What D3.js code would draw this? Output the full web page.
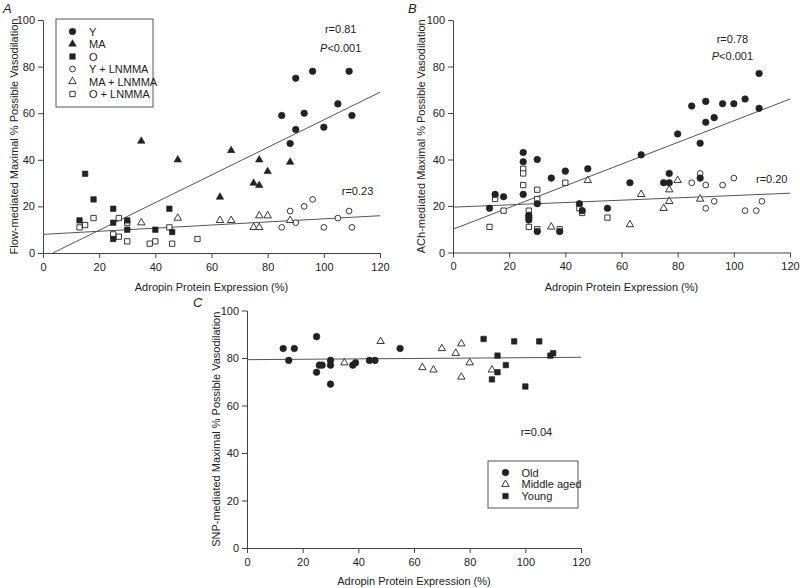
<!DOCTYPE html>
<html>
<head>
<meta charset="utf-8">
<title>Adropin vs vasodilation</title>
<script src="https://cdn.jsdelivr.net/npm/d3@7"></script>
<style>
body { margin: 0; background: #fff; }
svg { font-family: "Liberation Sans", Arial, sans-serif; }
</style>
</head>
<body>
<div id="chart"></div>
<script>
// ---- data ----
// panel A: flow-mediated
var aY    = [[85,59],[88,47],[90,53],[90,75],[93,60],[96,78],[100,54],[105,64],[109,78],[110,59]];
var aMA   = [[35,48],[48,40],[63,24],[67,44],[75,30],[77,29],[77,40],[80,35],[88,39]];
var aO    = [[13,14],[15,34],[18,23],[25,19],[25,13],[25,6],[30,14],[30,10],[40,10],[45,19],[46,9]];
var aYL   = [[85,11],[88,18],[90,13],[93,20],[96,23],[100,11],[105,15],[109,18],[110,11]];
var aMAL  = [[35,13],[48,15],[63,14],[67,14],[75,11],[77,11],[77,16],[80,16],[88,14]];
var aOL   = [[13,11],[15,12],[18,15],[25,8],[27,15],[27,7],[30,13],[30,5],[38,4],[40,5],[45,11],[46,4],[55,6]];
var aFit1 = [[3.5,0],[120,69]];
var aFit2 = [[0,8],[120,16]];

// panel B: ACh-mediated
var bY    = [[85,63],[88,47],[90,65],[90,56],[93,58],[96,64],[100,64],[104,66],[109,77],[109,62]];
var bMA   = [[35,32],[48,36],[63,30],[67,42],[75,30],[77,30],[77,34],[80,51],[88,32]];
var bO    = [[13,19],[15,25],[18,24],[25,43],[25,39],[25,25],[27,16],[27,15],[27,14],[30,40],[30,21],[30,9],[38,9],[40,35],[45,21],[46,18],[55,19]];
var bYL   = [[85,30],[88,34],[90,29],[90,19],[93,22],[96,29],[100,32],[104,18],[108,18],[110,22]];
var bMAL  = [[35,11],[48,31],[63,12],[67,25],[75,19],[77,22],[77,27],[80,31],[88,23]];
var bOL   = [[13,11],[15,23],[18,18],[25,36],[25,34],[25,29],[27,18],[27,11],[30,27],[30,23],[30,10],[38,10],[40,30],[45,19],[46,17],[55,15]];
var bFit1 = [[0,10],[120,66]];
var bFit2 = [[0,19.5],[120,25.5]];

// panel C: SNP-mediated
var cOld   = [[13,84],[17,84],[15,79],[25,89],[25,74],[26,77],[27,77],[30,79],[30,77],[30,69],[38,77],[39,78],[44,79],[46,79],[55,84]];
var cMid   = [[35,78],[48,87],[63,76],[67,75],[70,84],[75,82],[77,86],[77,72],[80,78],[88,75]];
var cYoung = [[85,88],[88,71],[90,81],[90,74],[93,77],[96,87],[100,68],[105,87],[109,81],[110,82]];
var cFit   = [[0,79.3],[120,80.3]];

var xTicks = [0,20,40,60,80,100,120];
var yTicks = [0,20,40,60,80,100];

var legendA = ["Y","MA","O","Y + LNMMA","MA + LNMMA","O + LNMMA"];
var legendC = ["Old","Middle aged","Young"];

var w = 800, h = 588;
var svg = d3.select("#chart").append("svg").attr("width", w).attr("height", h);

var ink = "#222";
var fs = "11px";

// shape + fill for each kind of marker
function marker(g, kind, filled) {
  var type = kind == "circle" ? d3.symbolCircle : kind == "square" ? d3.symbolSquare : d3.symbolTriangle;
  var size = kind == "circle" ? (filled ? 34 : 26) : kind == "square" ? (filled ? 30 : 28) : 24;
  g.attr("d", d3.symbol().type(type).size(size)())
   .attr("fill", filled ? ink : "#fff")
   .attr("stroke", ink)
   .attr("stroke-width", filled ? 0.6 : 0.9);
}

function panel(p) {
  var x = d3.scaleLinear().domain([0,120]).range(p.xr);
  var y = d3.scaleLinear().domain([0,100]).range(p.yr);
  var g = svg.append("g");

  g.append("g").attr("transform", "translate(0," + p.yr[0] + ")")
    .call(d3.axisBottom(x).tickValues(xTicks).tickSize(5).tickSizeOuter(0).tickPadding(5));
  g.append("g").attr("transform", "translate(" + p.xr[0] + ",0)")
    .call(d3.axisLeft(y).tickValues(yTicks).tickSize(5).tickSizeOuter(0).tickPadding(3));
  g.selectAll(".domain, .tick line").attr("stroke", "#444");
  g.selectAll(".tick text").attr("fill", ink).style("font-size", fs);

  // regression lines
  p.fits.forEach(function(f) {
    g.append("line")
      .attr("x1", x(f[0][0])).attr("y1", y(f[0][1]))
      .attr("x2", x(f[1][0])).attr("y2", y(f[1][1]))
      .attr("stroke", "#555").attr("stroke-width", 1);
  });

  p.series.forEach(function(s) {
    g.selectAll(null).data(s.data).enter().append("path")
      .attr("transform", function(d){ return "translate(" + x(d[0]) + "," + y(d[1]) + ")"; })
      .call(marker, s.kind, s.filled);
  });

  g.append("text").attr("x", (p.xr[0]+p.xr[1])/2).attr("y", p.yr[0] + p.xto)
    .attr("text-anchor", "middle").style("font-size", fs).attr("fill", ink)
    .text("Adropin Protein Expression (%)");
  g.append("text")
    .attr("transform", "translate(" + p.ytx + "," + (p.yr[0]+p.yr[1])/2 + ") rotate(-90)")
    .attr("text-anchor", "middle").style("font-size", fs).attr("fill", ink)
    .text(p.ytitle);
  g.append("text").attr("x", p.lab[0]).attr("y", p.lab[1])
    .style("font-size", "13px").style("font-style", "italic").attr("fill", ink).text(p.letter);

  p.notes.forEach(function(n) {
    var t = g.append("text").attr("x", x(n[0])).attr("y", y(n[1]))
      .attr("text-anchor", "middle").style("font-size", fs).attr("fill", ink);
    if (n[2].charAt(0) == "P") {
      t.append("tspan").style("font-style", "italic").text("P");
      t.append("tspan").text(n[2].slice(1));
    } else t.text(n[2]);
  });
  return g;
}

var gA = panel({
  xr: [43, 380], yr: [253, 20], xto: 38, ytx: 18, lab: [3, 13], letter: "A",
  ytitle: "Flow-mediated Maximal % Possible Vasodilation",
  fits: [aFit1, aFit2],
  series: [
    {data: aYL, kind: "circle", filled: false},
    {data: aMAL, kind: "triangle", filled: false},
    {data: aOL, kind: "square", filled: false},
    {data: aY, kind: "circle", filled: true},
    {data: aMA, kind: "triangle", filled: true},
    {data: aO, kind: "square", filled: true}
  ],
  notes: [[106, 94.5, "r=0.81"], [106, 86.2, "P<0.001"], [112, 25, "r=0.23"]]
});

panel({
  xr: [453, 790], yr: [252.5, 20], xto: 38, ytx: 425, lab: [408, 13], letter: "B",
  ytitle: "ACh-mediated Maximal % Possible Vasodilation",
  fits: [bFit1, bFit2],
  series: [
    {data: bYL, kind: "circle", filled: false},
    {data: bMAL, kind: "triangle", filled: false},
    {data: bOL, kind: "square", filled: false},
    {data: bY, kind: "circle", filled: true},
    {data: bMA, kind: "circle", filled: true},
    {data: bO, kind: "circle", filled: true}
  ],
  notes: [[99.5, 90.2, "r=0.78"], [99.5, 82.7, "P<0.001"], [113.5, 29.8, "r=0.20"]]
});

var gC = panel({
  xr: [247, 581], yr: [548, 310.5], xto: 37, ytx: 220, lab: [193, 307], letter: "C",
  ytitle: "SNP-mediated Maximal % Possible Vasodilation",
  fits: [cFit],
  series: [
    {data: cMid, kind: "triangle", filled: false},
    {data: cOld, kind: "circle", filled: true},
    {data: cYoung, kind: "square", filled: true}
  ],
  notes: [[104, 47, "r=0.04"]]
});

// legends
function legend(g, items, kinds, fills, box, sx, tx, y0, dy) {
  g.append("rect").attr("x", box[0]).attr("y", box[1]).attr("width", box[2]).attr("height", box[3])
    .attr("fill", "#fff").attr("stroke", "#555").attr("stroke-width", 1);
  items.forEach(function(name, i) {
    var yy = y0 + i * dy;
    g.append("path").attr("transform", "translate(" + sx + "," + yy + ")").call(marker, kinds[i], fills[i]);
    g.append("text").attr("x", tx).attr("y", yy + 4).style("font-size", fs).attr("fill", ink).text(name);
  });
}
legend(gA, legendA, ["circle","triangle","square","circle","triangle","square"],
  [true,true,true,false,false,false], [56, 19, 97, 88], 72.5, 89, 31.5, 12.5);
legend(gC, legendC, ["circle","triangle","square"], [true,false,true],
  [488, 461, 90, 47], 505.5, 521.5, 472.5, 11.8);
</script>
</body>
</html>
